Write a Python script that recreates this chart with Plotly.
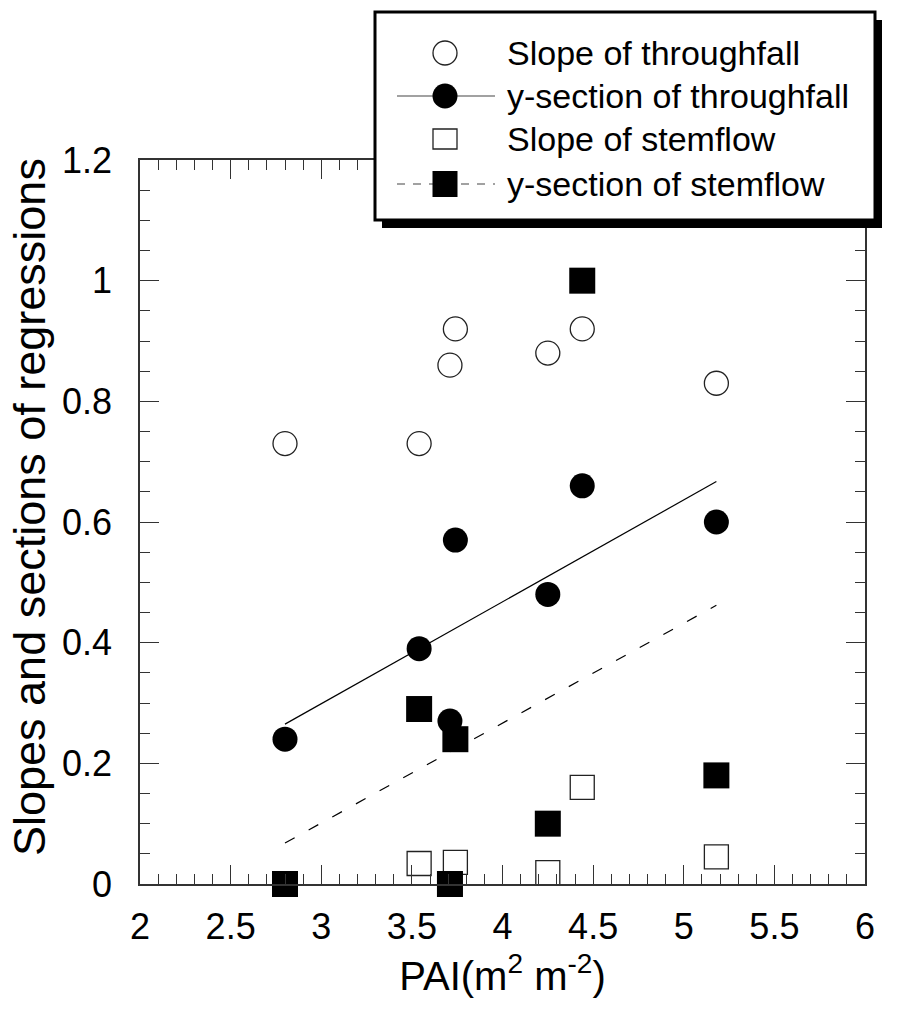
import plotly.graph_objects as go

# ---- data ----
pai = [2.80, 3.54, 3.71, 3.74, 4.25, 4.44, 5.18]
slope_throughfall = [0.73, 0.73, 0.86, 0.92, 0.88, 0.92, 0.83]
ysec_throughfall = [0.24, 0.39, 0.27, 0.57, 0.48, 0.66, 0.60]
slope_stemflow = [0.00, 0.034, 0.00, 0.036, 0.019, 0.16, 0.045]
ysec_stemflow = [0.00, 0.29, 0.00, 0.24, 0.10, 1.00, 0.18]

fit_x = [2.80, 5.18]
fit_throughfall = [0.265, 0.667]
fit_stemflow = [0.068, 0.462]

legend_labels = ["Slope of throughfall", "y-section of throughfall",
                 "Slope of stemflow", "y-section of stemflow"]

x_title = "PAI(m<sup>2</sup> m<sup>-2</sup>)"
y_title = "Slopes and sections of regressions"

FONT = "Liberation Sans, Arial, sans-serif"
OFF = 0  # page body margin removed via post_script
W, H = 910, 1010
# plot area in page pixels: x 140..865, y 160..884
L = 140 - OFF
T = 160 - OFF
R = W - (865 - OFF)
B = H - (884 - OFF)
PW, PH = W - L - R, H - T - B


def px(x):
    return (x - OFF - L) / PW


def py(y):
    return (H - B - (y - OFF)) / PH


fig = go.Figure()

fig.add_trace(go.Scatter(x=fit_x, y=fit_throughfall, mode="lines",
                         line=dict(color="black", width=1.2), showlegend=False))
fig.add_trace(go.Scatter(x=fit_x, y=fit_stemflow, mode="lines",
                         line=dict(color="black", width=1.2, dash="11px,16px"),
                         showlegend=False))
fig.add_trace(go.Scatter(x=pai, y=slope_throughfall, mode="markers", cliponaxis=False,
                         marker=dict(symbol="circle-open", size=24, color="#222",
                                     line=dict(width=1.3, color="#222")),
                         name=legend_labels[0], showlegend=False))
fig.add_trace(go.Scatter(x=pai, y=ysec_throughfall, mode="markers", cliponaxis=False,
                         marker=dict(symbol="circle", size=25, color="black",
                                     line=dict(width=0)),
                         name=legend_labels[1], showlegend=False))
fig.add_trace(go.Scatter(x=pai, y=slope_stemflow, mode="markers", cliponaxis=False,
                         marker=dict(symbol="square-open", size=24, color="#222",
                                     line=dict(width=1.3, color="#222")),
                         name=legend_labels[2], showlegend=False))
fig.add_trace(go.Scatter(x=pai, y=ysec_stemflow, mode="markers", cliponaxis=False,
                         marker=dict(symbol="square", size=26, color="black",
                                     line=dict(width=0)),
                         name=legend_labels[3], showlegend=False))

axis_common = dict(
    showline=True, linecolor="#333", linewidth=1.5, mirror="ticks",
    ticks="inside", ticklen=19, tickwidth=1.2, tickcolor="#333",
    showgrid=False, zeroline=False,
    tickfont=dict(family=FONT, size=36, color="black"),
)

fig.update_xaxes(range=[2, 6], dtick=0.5, tick0=2,
                 minor=dict(dtick=0.1, ticks="inside", ticklen=10, tickwidth=1.2,
                            tickcolor="#333", showgrid=False),
                 ticklabelstandoff=10,
                 title=dict(text=x_title, standoff=16,
                            font=dict(family=FONT, size=40, color="black")),
                 **axis_common)
fig.update_yaxes(range=[0, 1.2], dtick=0.2, tick0=0,
                 minor=dict(dtick=0.05, ticks="inside", ticklen=10, tickwidth=1.2,
                            tickcolor="#333", showgrid=False),
                 ticklabelstandoff=19,
                 **axis_common)

# ---- custom legend box with drop shadow ----
bx0, by0, bx1, by1 = 375, 12, 875, 220
shapes = [
    dict(type="rect", xref="paper", yref="paper", layer="above",
         x0=px(bx0 + 7), x1=px(bx1 + 7), y0=py(by0 + 8), y1=py(by1 + 8),
         fillcolor="black", line=dict(width=0)),
    dict(type="rect", xref="paper", yref="paper", layer="above",
         x0=px(bx0), x1=px(bx1), y0=py(by0), y1=py(by1),
         fillcolor="white", line=dict(color="black", width=3)),
]
rows = [53, 96, 139, 184]
gx = 445
# row 1: open circle
shapes.append(dict(type="circle", xref="paper", yref="paper", layer="above",
                   x0=px(gx - 12), x1=px(gx + 12), y0=py(rows[0] - 12), y1=py(rows[0] + 12),
                   fillcolor="white", line=dict(color="#222", width=1.3)))
# row 2: line + filled circle
shapes.append(dict(type="line", xref="paper", yref="paper", layer="above",
                   x0=px(397), x1=px(495), y0=py(rows[1]), y1=py(rows[1]),
                   line=dict(color="#444", width=1.2)))
shapes.append(dict(type="circle", xref="paper", yref="paper", layer="above",
                   x0=px(gx - 12.5), x1=px(gx + 12.5), y0=py(rows[1] - 12.5), y1=py(rows[1] + 12.5),
                   fillcolor="black", line=dict(width=0)))
# row 3: open square
shapes.append(dict(type="rect", xref="paper", yref="paper", layer="above",
                   x0=px(gx - 12), x1=px(gx + 12), y0=py(rows[2] - 10), y1=py(rows[2] + 10),
                   fillcolor="white", line=dict(color="#222", width=1.3)))
# row 4: dashed line + filled square
shapes.append(dict(type="line", xref="paper", yref="paper", layer="above",
                   x0=px(397), x1=px(495), y0=py(rows[3]), y1=py(rows[3]),
                   line=dict(color="#444", width=1.2, dash="8px,8px")))
shapes.append(dict(type="rect", xref="paper", yref="paper", layer="above",
                   x0=px(gx - 12.5), x1=px(gx + 12.5), y0=py(rows[3] - 13), y1=py(rows[3] + 13),
                   fillcolor="black", line=dict(width=0)))

annotations = []
for lab, ry in zip(legend_labels, rows):
    annotations.append(dict(text=lab, xref="paper", yref="paper", x=px(505), y=py(ry),
                            xanchor="left", yanchor="middle", showarrow=False,
                            font=dict(family=FONT, size=34, color="black")))

# y-axis title
annotations.append(dict(text=y_title, xref="paper", yref="paper", x=px(29), y=py(507),
                        xanchor="center", yanchor="middle", textangle=-90, showarrow=False,
                        font=dict(family=FONT, size=45, color="black")))

fig.update_layout(
    width=W, height=H,
    margin=dict(l=L, r=R, t=T, b=B, autoexpand=False),
    paper_bgcolor="white", plot_bgcolor="white",
    showlegend=False,
    shapes=shapes, annotations=annotations,
)

fig.write_html("out.html",
               config={"displayModeBar": False},
               post_script="document.body.style.margin='0';document.body.style.padding='0';")
